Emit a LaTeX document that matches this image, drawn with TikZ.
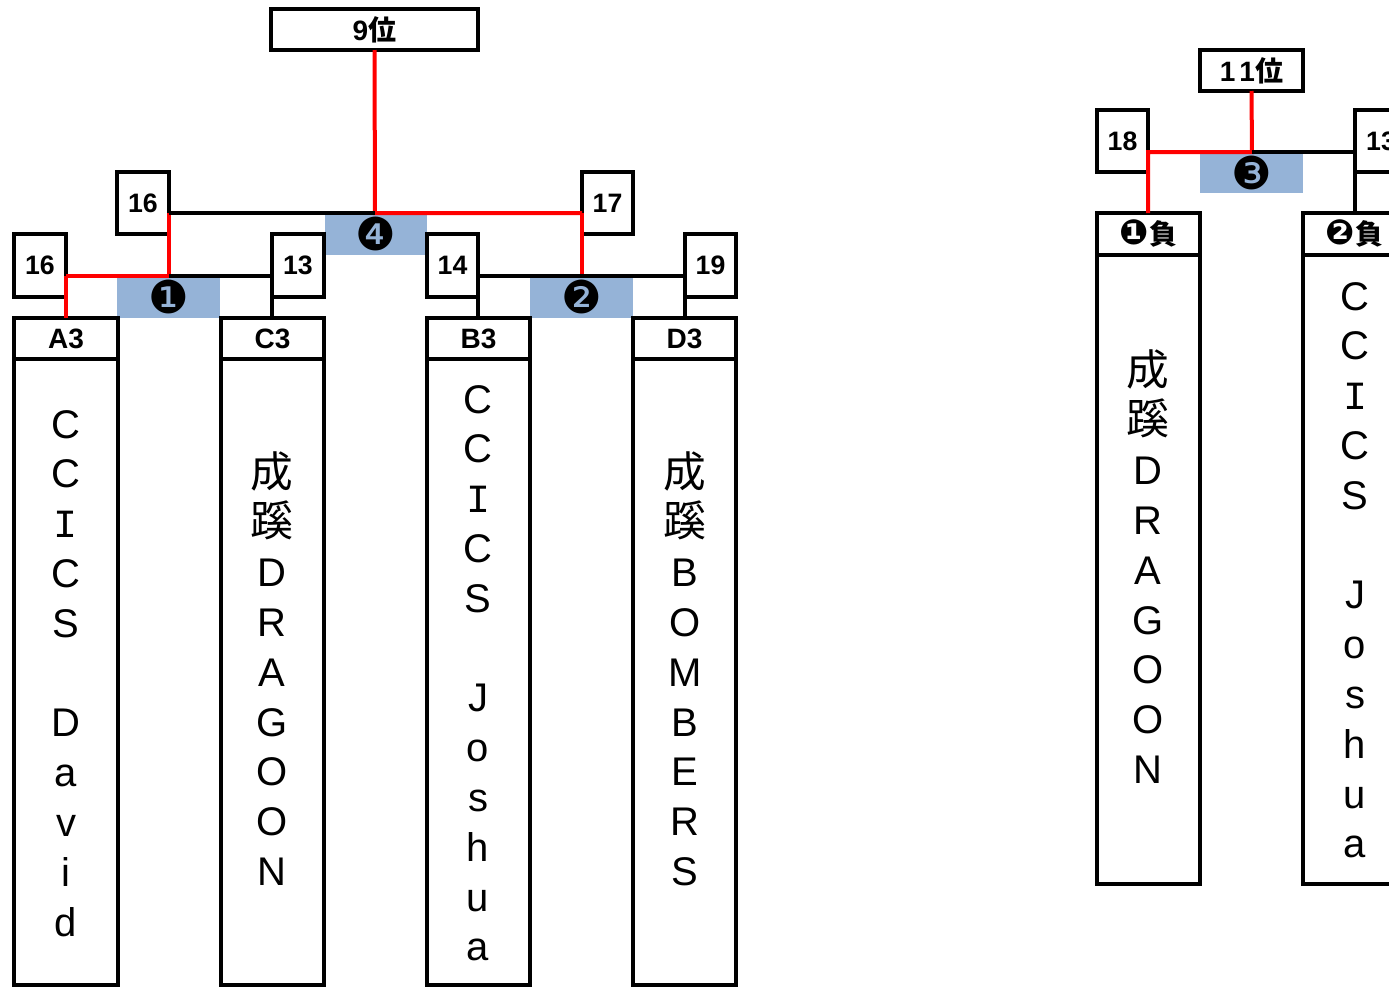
\documentclass[tikz,border=0pt]{standalone}
\usepackage{fontspec}
\setmainfont{Liberation Sans}
\newfontfamily\cjk{Noto Sans CJK JP}
\newfontfamily\dvs{DejaVu Sans}
\newfontfamily\lmono{Liberation Mono}
\definecolor{wblue}{HTML}{95B3D7}
\definecolor{lred}{HTML}{FF0000}
\newcommand{\cj}[1]{{\cjk\fontsize{32}{32}\selectfont #1}}
\newcommand{\mI}{{\lmono I}}
\newcommand{\pbox}[7]{\node[#1, minimum width={(#4-#2)*0.75pt}, minimum height={(#5-#3)*0.75pt}] (#6) at ({(#2+#4)/2},{(#3+#5)/2}) {#7};}
\newcommand{\vcol}[4]{\foreach \c/\k in {#4} \node[ch] (#1-\k) at (#2, {#3+\k*49.8}) {\c};}
\tikzset{
 box/.style={draw=black, line width=3pt, fill=white, inner sep=0pt, outer sep=0pt, font=\bfseries\fontsize{20}{20}\selectfont},
 hdr/.style={box, font=\bfseries\fontsize{21}{21}\selectfont},
 colbox/.style={draw=black, line width=3pt, inner sep=0pt, outer sep=0pt},
 bluebox/.style={fill=wblue, inner sep=0pt, outer sep=0pt, font=\dvs\fontsize{34}{34}\selectfont},
 win/.style={draw=lred, line width=3pt, line join=miter},
 lose/.style={draw=black, line width=3pt},
 ch/.style={anchor=base, inner sep=0pt, font=\fontsize{30}{30}\selectfont},
}
\begin{document}
\begin{tikzpicture}[x=0.75pt,y=-0.75pt]
\clip (0,0) rectangle (1389,986);
% blue match boxes
\pbox{bluebox}{117}{276}{220}{318}{w1}{❶}
\pbox{bluebox}{530}{276}{633}{318}{w2}{❷}
\pbox{bluebox}{1200}{152}{1303}{193}{w3}{❸}
\pbox{bluebox}{325}{213}{427}{255}{w4}{❹}
% rank boxes
\pbox{hdr}{271}{9}{478}{50}{rank9}{9{\cjk\bfseries 位}}
\pbox{hdr}{1200}{50}{1303}{91}{r11}{1\hspace{3pt}1{\cjk\bfseries 位}}
% score boxes
\pbox{box}{117}{172}{169}{234}{n16u}{16}
\pbox{box}{582}{172}{633}{234}{n17}{17}
\pbox{box}{14}{234}{66}{297}{n16l}{16}
\pbox{box}{272}{234}{324}{297}{n13}{13}
\pbox{box}{427}{234}{478}{297}{n14}{14}
\pbox{box}{685}{234}{736}{297}{n19}{19}
\pbox{box}{1097}{110}{1148}{172}{n18}{18}
\pbox{box}{1355}{110}{1407}{172}{n13r}{13}
% team headers
\pbox{hdr}{14}{318}{118}{359}{a3}{A3}
\pbox{hdr}{221}{318}{324}{359}{c3}{C3}
\pbox{hdr}{427}{318}{530}{359}{b3}{B3}
\pbox{hdr}{633}{318}{736}{359}{d3}{D3}
\pbox{hdr}{1097}{213}{1200}{255}{l1}{{\dvs\fontsize{26}{26}\selectfont ❶}{\cjk\bfseries 負}}
\pbox{hdr}{1303}{213}{1406}{255}{l2}{{\dvs\fontsize{26}{26}\selectfont ❷}{\cjk\bfseries 負}}
% team name columns
\pbox{colbox}{14}{359}{118}{985}{a3c}{}
\pbox{colbox}{221}{359}{324}{985}{c3c}{}
\pbox{colbox}{427}{359}{530}{985}{b3c}{}
\pbox{colbox}{633}{359}{736}{985}{d3c}{}
\pbox{colbox}{1097}{255}{1200}{884}{l1c}{}
\pbox{colbox}{1303}{255}{1406}{884}{l2c}{}
% vertical names
\vcol{ta}{66}{438}{C/0,C/1,\mI/2,C/3,S/4,D/6,a/7,v/8,i/9,d/10}
\vcol{tc}{272}{487}{\cj{成}/0,\cj{蹊}/1,D/2,R/3,A/4,G/5,O/6,O/7,N/8}
\vcol{tb}{478}{413}{C/0,C/1,\mI/2,C/3,S/4,J/6,o/7,s/8,h/9,u/10,a/11}
\vcol{td}{685}{487}{\cj{成}/0,\cj{蹊}/1,B/2,O/3,M/4,B/5,E/6,R/7,S/8}
\vcol{tl}{1148}{385}{\cj{成}/0,\cj{蹊}/1,D/2,R/3,A/4,G/5,O/6,O/7,N/8}
\vcol{tr}{1355}{310}{C/0,C/1,\mI/2,C/3,S/4,J/6,o/7,s/8,h/9,u/10,a/11}
% junctions
\coordinate (j4) at (375,213);
\coordinate (j1) at (169,276);
\coordinate (j2) at (582,276);
\coordinate (j3) at (1252,152);
% connectors
\draw[win] (n16u.east |- j4) -- (j1);
\draw[win] (n17.west |- j4) -- (j2);
\draw[win] (rank9.south) -- (j4) -- (n17.west |- j4);
\draw[lose] (n16u.east |- j4) -- (j4);
\draw[win] (n16l.east |- j1) -- (j1);
\draw[win] (n16l.east |- j1) -- (a3.north);
\draw[lose] (j1) -- (n13.west |- j1);
\draw[lose] (n13.south west) -- (n13.south west |- c3.north);
\draw[lose] (n14.east |- j2) -- (n19.west |- j2);
\draw[lose] (n14.south east) -- (n14.south east |- b3.north);
\draw[lose] (n19.south west) -- (n19.south west |- d3.north);
\draw[win] (r11.south) -- (j3) -- (n18.east |- j3) -- (n18.east |- l1.north);
\draw[lose] (j3) -- (n13r.west |- j3);
\draw[lose] (n13r.south west) -- (n13r.south west |- l2.north);
\end{tikzpicture}
\end{document}
